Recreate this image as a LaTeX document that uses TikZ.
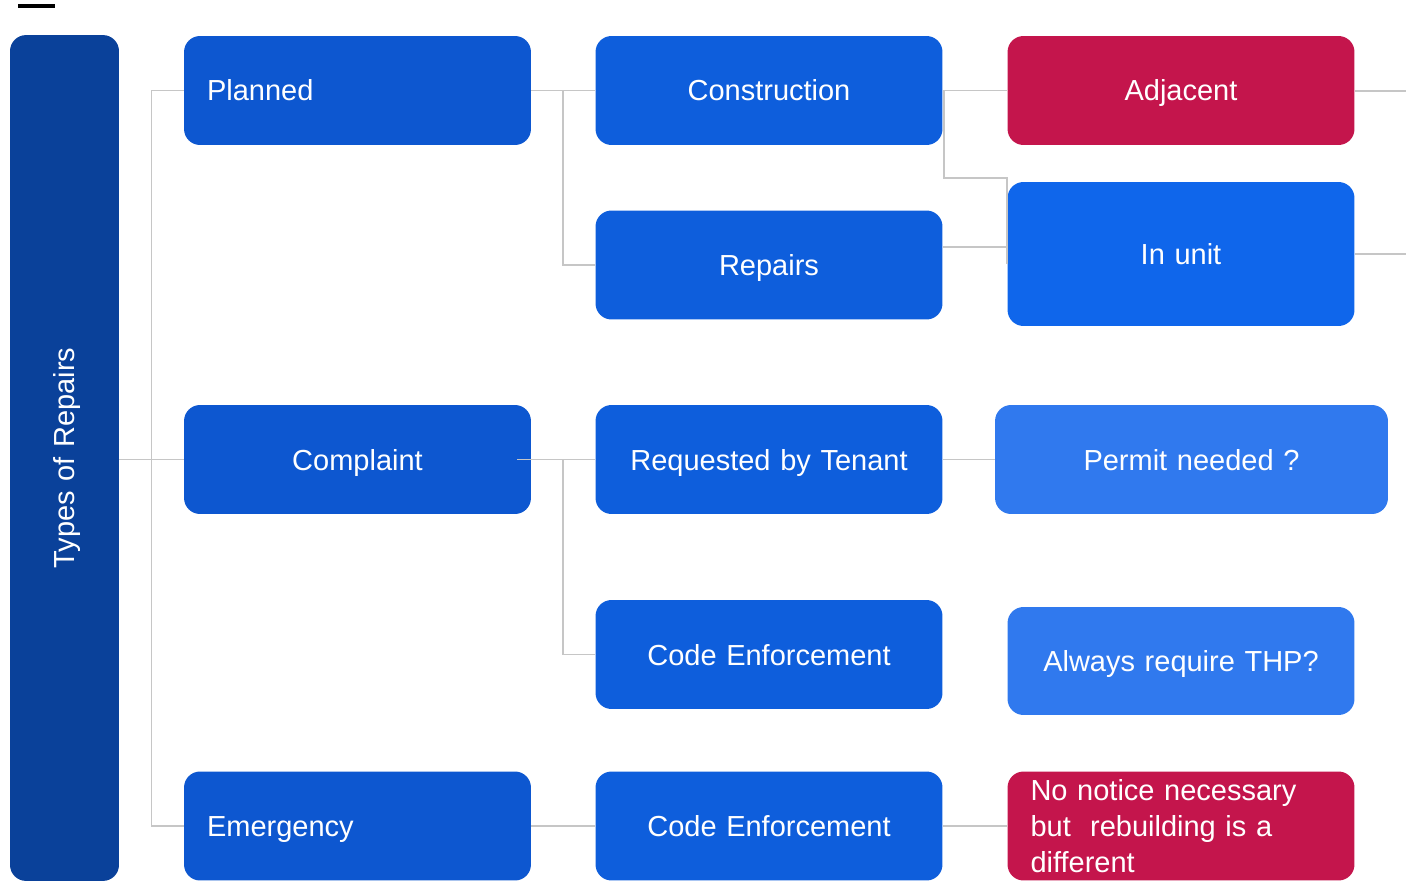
\documentclass[tikz,border=0pt]{standalone}
\usepackage{fontspec}
\setmainfont{Liberation Sans}
\usepackage{tikz}
\usetikzlibrary{calc, positioning}
\definecolor{navy}{HTML}{0A419A}
\definecolor{blueA}{HTML}{0D57D0}
\definecolor{blueB}{HTML}{0E5EDC}
\definecolor{blueC}{HTML}{0F66EB}
\definecolor{blueD}{HTML}{3079EE}
\definecolor{crimson}{HTML}{C4154C}
\definecolor{wire}{HTML}{C6C6C6}
\tikzset{
tile/.style={
  rectangle,
  rounded corners=0.32cm,
  fill=blueA,
  text=white,
  font=\fontsize{16.5pt}{20.5pt}\selectfont,
  text width=6.02cm,
  inner xsep=0.46cm,
  inner ysep=0pt,
  minimum height=2.18cm,
  align=center
},
box/.style={tile, text height=0.42cm, text depth=0pt},
leftbox/.style={box, align=left},
link/.style={draw=wire, line width=1.1pt},
}

\begin{document}
\begin{tikzpicture}[x=0.02cm, y=-0.02cm]
    \useasboundingbox (0,0) rectangle (1406,882);
    \draw[line width=2.2pt] (18,6) -- (55,6);
    % root
    \node[box, fill=navy, text width=16.92cm, minimum height=2.18cm, inner xsep=0pt,
          rotate=90] (types) at (64.5,458) {Types of Repairs};
    % second column
    \node[leftbox] (planned) at (357.5,90.5) {Planned};
    \node[box] (complaint) at (357.5,459.5) {Complaint};
    \node[leftbox] (emergency) at (357.5,826) {Emergency};
    % third column
    \node[box, fill=blueB] (construction) at (769,90.5) {Construction};
    \node[box, fill=blueB] (repairs) at (769,265) {Repairs};
    \node[box, fill=blueB] (requested) at (769,459.5) {Requested by Tenant};
    \node[box, fill=blueB] (codeenf) at (769,654.5) {Code Enforcement};
    \node[box, fill=blueB] (codeemerg) at (769,826) {Code Enforcement};
    % fourth column
    \node[box, fill=crimson] (adjacent) at (1181,90.5) {Adjacent};
    \node[box, fill=blueC, minimum height=2.88cm] (inunit) at (1181,254) {In unit};
    \node[box, fill=blueD, text width=6.94cm] (permit) at (1191.5,459.5) {Permit needed ?};
    \node[box, fill=blueD, minimum height=2.16cm] (thp) at (1181,661) {Always require THP?};
    \node[tile, align=left, fill=crimson] (nonotice) at (1181,826) {No notice necessary\\but\ \ rebuilding is a\\different};
    % connectors
    \coordinate (trunk) at (151.5,0);
    \coordinate (fork) at (563,0);
    \coordinate (drop) at (1007,178);
    \coordinate (adjout) at (1406,91);
    \coordinate (unitout) at (1406,254);
    \draw[link] (types.south |- complaint.west) -- (complaint.west);
    \draw[link] (planned.west) -| (trunk |- emergency.west) -- (emergency.west);
    \draw[link] (planned.east) -- (construction.west);
    \draw[link] (fork |- planned.east) |- (repairs.west);
    \draw[link] (construction.east) -- (adjacent.west);
    \draw[link] (construction.east) ++(1,0) |- (drop) -- ++(0,86);
    \draw[link] (repairs.east) ++(0,-18) coordinate (r1) -- (inunit.west |- r1);
    \draw[link] (adjacent.east |- adjout) -- (adjout);
    \draw[link] (inunit.east) -- (unitout);
    \draw[link] (complaint.east) ++(-14,0) coordinate (c1) -- (requested.west);
    \draw[link] (fork |- c1) |- (codeenf.west);
    \draw[link] (requested.east) -- (permit.west);
    \draw[link] (emergency.east) -- (codeemerg.west);
    \draw[link] (codeemerg.east) -- (nonotice.west);
\end{tikzpicture}
\end{document}
